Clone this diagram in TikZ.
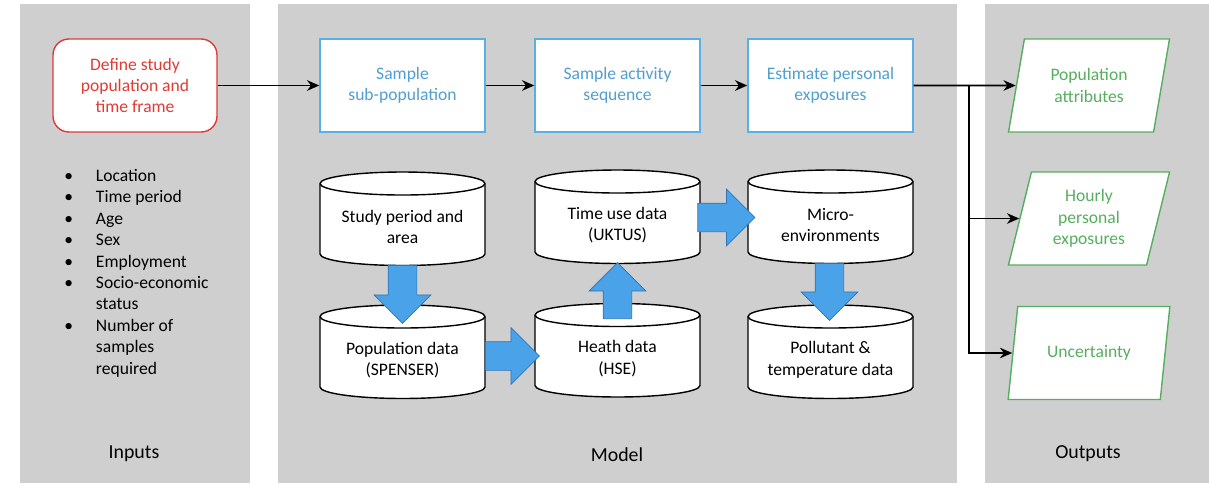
\documentclass[tikz,border=0pt]{standalone}
\usepackage{fontspec}
\setmainfont{Carlito}
\usetikzlibrary{shapes, arrows.meta, positioning}

\definecolor{panelgray}{HTML}{CFCFCF}
\definecolor{inred}{HTML}{E23B35}
\definecolor{stepblue}{HTML}{5AAFE6}
\definecolor{outgreen}{HTML}{55AF5E}
\definecolor{fatfill}{HTML}{4AA3E8}
\definecolor{fatdraw}{HTML}{2F74B8}

\pgfdeclarelayer{panels}
\pgfdeclarelayer{drums}
\pgfsetlayers{panels,drums,main}

\begin{document}
\begin{tikzpicture}[x=0.02cm, y=-0.02cm,
		font=\fontsize{10}{12.2}\selectfont,
		inbox/.style={
			rectangle,
			draw=inred,
			fill=white,
			thick,
			text=inred,
			rounded corners=9pt,
			minimum width=3.28cm,
			minimum height=1.86cm,
			align=center
		},
		stepbox/.style={
			rectangle,
			draw=stepblue,
			fill=white,
			thick,
			text=stepblue!90!black,
			minimum width=3.3cm,
			minimum height=1.86cm,
			align=center
		},
		outbox/.style={
			trapezium,
			trapezium left angle=76.5,
			trapezium right angle=103.5,
			trapezium stretches=true,
			draw=outgreen,
			fill=white,
			thick,
			text=outgreen,
			minimum width=3.24cm,
			minimum height=1.86cm,
			align=center
		},
		db/.style={align=center, inner sep=0pt},
		fat/.style={
			single arrow,
			draw=fatdraw,
			fill=fatfill,
			thin,
			inner sep=0.28cm,
			anchor=tail,
			single arrow head extend=0.28cm,
			single arrow head indent=0pt
		},
		arrow/.style={-{Stealth[length=7pt, width=6pt]}, line width=1.1pt},
		title/.style={font=\fontsize{11.3}{13}\selectfont}]

		\useasboundingbox (0,0) rectangle (1209,483);

		% panels
		\begin{pgfonlayer}{panels}
			\fill[panelgray] (20,4) rectangle (250,483);
			\fill[panelgray] (278,4) rectangle (957,483);
			\fill[panelgray] (985,4) rectangle (1209,483);
		\end{pgfonlayer}

		\node [title] (inputs) at (134,454) {Inputs};
		\node [title] (model) at (617,455) {Model};
		\node [title] (outputs) at (1088,454) {Outputs};

		% inputs
		\node [inbox] (define) at (135,85.5) {Define study\\population and\\time frame};
		\node [anchor=north west, inner sep=0pt, align=left] (attrs) at (64,166) {%
			\begin{tabular}{@{}p{18pt}@{}l@{}}
				\textbullet & Location\\
				\textbullet & Time period\\
				\textbullet & Age\\
				\textbullet & Sex\\
				\textbullet & Employment\\
				\textbullet & Socio-economic\\
				 & status\\
				\textbullet & Number of\\
				 & samples\\
				 & required
			\end{tabular}};

		% model steps
		\node [stepbox] (sample) at (402.5,85.5) {Sample\\sub-population};
		\node [stepbox] (activity) at (617.5,85.5) {Sample activity\\sequence};
		\node [stepbox] (estimate) at (830.5,85.5) {Estimate personal\\exposures};

		% data sources
		\node [db] (study) at (402.5,227) {Study period and\\area};
		\node [db] (timeuse) at (617.5,225) {Time use data\\(UKTUS)};
		\node [db] (micro) at (830.5,225) {Micro-\\environments};
		\node [db] (popdata) at (402.5,360) {Population data\\(SPENSER)};
		\node [db] (health) at (617.5,358.5) {Heath data\\(HSE)};
		\node [db] (pollut) at (830.5,360) {Pollutant \&\\temperature data};

		\begin{pgfonlayer}{drums}
			\foreach \n in {study,timeuse,micro,popdata,health,pollut} {
				\draw[fill=white, thick]
					([shift={(-1.65cm,0.87cm)}]\n.center)
					-- ([shift={(-1.65cm,-0.54cm)}]\n.center)
					arc[start angle=180, end angle=360, x radius=1.65cm, y radius=0.23cm]
					-- ([shift={(1.65cm,0.87cm)}]\n.center)
					arc[start angle=0, end angle=180, x radius=1.65cm, y radius=0.23cm]
					-- cycle;
				\draw[thick] ([shift={(-1.65cm,0.87cm)}]\n.center)
					arc[start angle=180, end angle=360, x radius=1.65cm, y radius=0.23cm];
			}
		\end{pgfonlayer}

		% outputs
		\node [outbox] (popattr) at (1089,85.5) {Population\\attributes};
		\node [outbox] (hourly) at (1089,218.5) {Hourly\\personal\\exposures};
		\node [outbox] (uncert) at (1089,353) {Uncertainty};

		% flow
		\draw [arrow] (define) -- (sample);
		\draw [arrow] (sample) -- (activity);
		\draw [arrow] (activity) -- (estimate);
		\draw [arrow] (estimate) -- (popattr);
		\coordinate (split) at (969,85.5);
		\draw [arrow] (split) |- (hourly);
		\draw [arrow] (split) |- (uncert);

		% block arrows between data
		\node [fat, shape border rotate=270, minimum height=1.16cm] (f1) at ([yshift=-0.76cm]study.center) {};
		\node [fat, minimum height=1.08cm] (f2) at ([shift={(1.65cm,0.08cm)}]popdata.center) {};
		\node [fat, shape border rotate=90, minimum height=1.12cm] (f3) at ([yshift=0.79cm]health.center) {};
		\node [fat, minimum height=1.14cm] (f4) at ([shift={(1.6cm,0.15cm)}]timeuse.center) {};
		\node [fat, shape border rotate=270, minimum height=1.14cm] (f5) at ([shift={(-0.02cm,-0.76cm)}]micro.center) {};
	\end{tikzpicture}
\end{document}
